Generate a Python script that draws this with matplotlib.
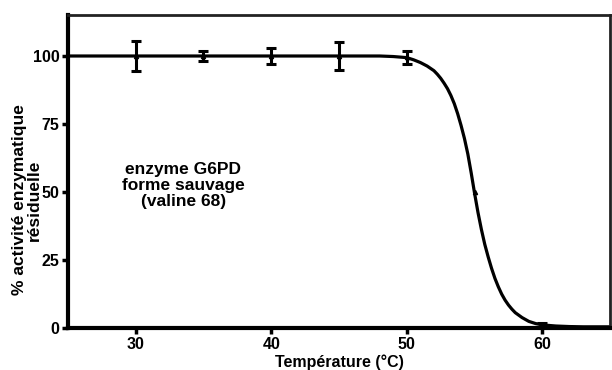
import matplotlib
matplotlib.use("Agg")
import matplotlib.pyplot as plt

plt.rcParams["font.family"] = ["Liberation Sans", "DejaVu Sans"]
plt.rcParams["font.weight"] = "bold"

# measured points (temperature, % residual activity, error)
temps = [30, 35, 40, 45, 50, 55, 60, 65]
activity = [100, 100, 100, 100, 99.5, 50.0, 1.0, 0.6]
errors = [5.6, 1.7, 2.9, 5.0, 2.3, 0.0, 0.8, 0.0]

# fitted curve
curve_x = [25, 30, 35, 40, 45, 48, 49, 50, 50.5, 51, 51.5, 52, 52.25, 52.5,
           52.75, 53, 53.25, 53.5, 53.75, 54, 54.25, 54.5, 54.75, 55, 55.25,
           55.5, 55.75, 56, 56.25, 56.5, 56.75, 57, 57.25, 57.5, 57.75, 58,
           58.5, 59, 59.5, 60, 61, 62, 63, 65]
curve_y = [100, 100, 100, 100, 100, 100, 99.8, 99.4, 98.6, 97.6, 96.3, 94.6,
           93.3, 91.8, 90.0, 88.0, 85.5, 82.5, 78.8, 74.5, 69.7, 64.0, 57.0,
           49.5, 42.5, 36.3, 30.8, 26.2, 22.0, 18.3, 15.2, 12.5, 10.3, 8.5,
           7.0, 5.7, 3.9, 2.5, 1.7, 1.2, 0.8, 0.6, 0.5, 0.5]

fig = plt.figure(figsize=(6.12, 3.7), dpi=100)
ax = fig.add_axes([0.111, 0.113, 0.886, 0.846])

ax.plot(curve_x, curve_y, color="black", lw=2.3, solid_joinstyle="round")
ax.plot(temps, activity, "^", ms=3, color="black")
bar_t = [t for t, e in zip(temps, errors) if e > 0]
bar_a = [a for a, e in zip(activity, errors) if e > 0]
bar_e = [e for e in errors if e > 0]
ax.errorbar(bar_t, bar_a, yerr=bar_e, fmt="none", ecolor="black",
            elinewidth=2.2, capsize=3.8, capthick=2.2)

ax.text(33.5, 52.5, "enzyme G6PD\nforme sauvage\n(valine 68)", ha="center",
        va="center", fontsize=12.5, fontweight="bold", linespacing=1.1)

ax.set_xlim(25, 65)
ax.set_ylim(0, 115)
ax.set_xticks([30, 40, 50, 60])
ax.set_yticks([0, 25, 50, 75, 100])
ax.tick_params(axis="both", direction="out", length=4, width=2.5,
               labelsize=11.5, pad=2)
for lab in ax.get_xticklabels() + ax.get_yticklabels():
    lab.set_fontweight("bold")

for side in ["left", "bottom"]:
    ax.spines[side].set_linewidth(3)
for side in ["top", "right"]:
    ax.spines[side].set_linewidth(2)
    ax.spines[side].set_color("#222222")

ax.set_xlabel("Température (°C)", fontsize=11.5, fontweight="bold")
ax.xaxis.set_label_coords(0.5, -0.085)
ax.set_ylabel("% activité enzymatique\nrésiduelle", fontsize=12.5,
              fontweight="bold", linespacing=1.0)
ax.yaxis.set_label_coords(-0.048, 0.41)

fig.savefig("out.png", dpi=100)
